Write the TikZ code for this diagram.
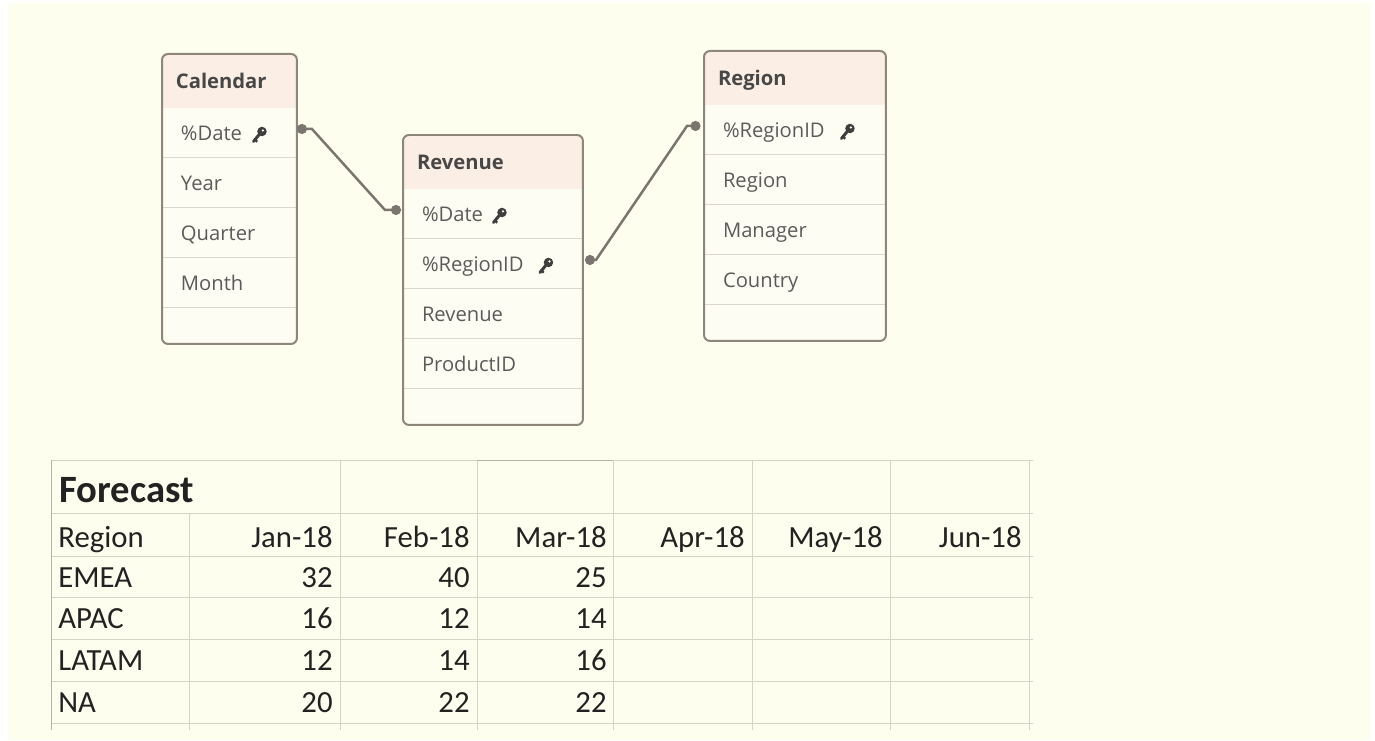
\documentclass[tikz,border=0pt]{standalone}
\usepackage{fontspec}
\setmainfont{Open Sans}
\newfontfamily\sheetfont{Carlito}
\usetikzlibrary{positioning,arrows.meta,backgrounds}

\definecolor{paper}{HTML}{FEFEEF}
\definecolor{headfill}{HTML}{FBEEE4}
\definecolor{rowfill}{HTML}{FEFDF3}
\definecolor{framecol}{HTML}{8E867B}
\definecolor{sepcol}{HTML}{DDD8CE}
\definecolor{fldtext}{HTML}{5B5B5B}
\definecolor{headtext}{HTML}{474747}
\definecolor{linkcol}{HTML}{7A766F}
\definecolor{keycol}{HTML}{3E3E3E}
\definecolor{gridcol}{HTML}{D6D4C8}
\definecolor{gridedge}{HTML}{B5B3A8}
\definecolor{celltext}{HTML}{222222}

\tikzset{
    head/.style={
           anchor=north west,
           minimum height=1.08cm,
           inner xsep=0.28cm, inner ysep=0pt, outer sep=0pt,
           text width=#1,
           text height=8.2pt, text depth=0pt,
           font=\bfseries\fontsize{11.5}{13}\selectfont,
           text=headtext
           },
    field/.style={
           minimum height=1cm,
           inner xsep=0.38cm, inner ysep=0pt, outer sep=0pt,
           text width=#1,
           text height=8.2pt, text depth=0pt,
           font=\fontsize{11.5}{13}\selectfont,
           text=fldtext
           },
    tail/.style={
           minimum height=0.72cm,
           minimum width=#1,
           inner sep=0pt, outer sep=0pt
           },
    tblframe/.style={draw=framecol, line width=0.04cm, rounded corners=0.12cm},
    rowsep/.style={draw=sepcol, line width=0.02cm},
    keylink/.style={
           draw=linkcol, line width=0.05cm,
           {Circle[length=0.2cm]}-{Circle[length=0.2cm]}
           },
    keyicon/.pic={
           \fill[keycol] (0.06cm,0.07cm) circle (0.095cm);
           \fill[rowfill] (0.08cm,0.09cm) circle (0.025cm);
           \draw[keycol, line width=0.06cm, line cap=round] (0.03cm,0.04cm) -- (-0.11cm,-0.13cm);
           \draw[keycol, line width=0.045cm] (-0.08cm,-0.095cm) -- (-0.035cm,-0.135cm);
           },
    sheetline/.style={draw=gridcol, line width=0.02cm},
    cellL/.style={
           anchor=base west, inner sep=0pt,
           font=\sheetfont\fontsize{17.5}{20}\selectfont,
           text=celltext
           },
    cellR/.style={cellL, anchor=base east},
    sheettitle/.style={cellL, font=\sheetfont\bfseries\fontsize{22}{24}\selectfont}
}

\begin{document}
\begin{tikzpicture}[x=0.02cm, y=-0.02cm]
   \useasboundingbox (0,0) rectangle (1375,740);

   % Calendar
   \node[head=2.14cm] (cal) at (162,54) {Calendar};
   \node[field=1.94cm] (caldate) [below=0pt of cal] {\%Date};
   \node[field=1.94cm] (calyear) [below=0pt of caldate] {Year};
   \node[field=1.94cm] (calqtr) [below=0pt of calyear] {Quarter};
   \node[field=1.94cm] (calmonth) [below=0pt of calqtr] {Month};
   \node[tail=2.7cm] (calend) [below=0pt of calmonth] {};

   % Revenue
   \node[head=3.04cm] (rev) at (403,135) {Revenue};
   \node[field=2.84cm] (revdate) [below=0pt of rev] {\%Date};
   \node[field=2.84cm] (revregion) [below=0pt of revdate] {\%RegionID};
   \node[field=2.84cm] (revamount) [below=0pt of revregion] {Revenue};
   \node[field=2.84cm] (revproduct) [below=0pt of revamount] {ProductID};
   \node[tail=3.6cm] (revend) [below=0pt of revproduct] {};

   % Region
   \node[head=3.08cm] (reg) at (704,51) {Region};
   \node[field=2.88cm] (regid) [below=0pt of reg] {\%RegionID};
   \node[field=2.88cm] (regname) [below=0pt of regid] {Region};
   \node[field=2.88cm] (regmgr) [below=0pt of regname] {Manager};
   \node[field=2.88cm] (regcountry) [below=0pt of regmgr] {Country};
   \node[tail=3.64cm] (regend) [below=0pt of regcountry] {};

   \begin{pgfonlayer}{background}
      \fill[white] (0,0) rectangle (1375,740);
      \fill[paper] (8,3) rectangle (1370,740);
      \foreach \t/\e in {cal/calend, rev/revend, reg/regend} {
         \fill[rowfill, rounded corners=0.12cm] (\t.north west) rectangle (\e.south east);
         \begin{scope}
            \clip[rounded corners=0.12cm] (\t.north west) rectangle (\e.south east);
            \fill[headfill] (\t.north west) rectangle (\t.south east);
         \end{scope}
      }
   \end{pgfonlayer}

   \foreach \r in {caldate,calyear,calqtr,calmonth,revdate,revregion,revamount,revproduct,regid,regname,regmgr,regcountry}
      \draw[rowsep] (\r.south west) -- (\r.south east);

   \draw[tblframe] (cal.north west) rectangle (calend.south east);
   \draw[tblframe] (rev.north west) rectangle (revend.south east);
   \draw[tblframe] (reg.north west) rectangle (regend.south east);

   \pic at ([xshift=1.94cm,yshift=-0.04cm]caldate.west) {keyicon};
   \pic at ([xshift=1.92cm,yshift=-0.04cm]revdate.west) {keyicon};
   \pic at ([xshift=2.85cm,yshift=-0.04cm]revregion.west) {keyicon};
   \pic at ([xshift=2.86cm,yshift=-0.04cm]regid.west) {keyicon};

   \draw[keylink] ([yshift=0.08cm]caldate.east) -- ++(0.3cm,0)
        -- ([xshift=-0.36cm,yshift=0.08cm]revdate.west) -- ([xshift=-0.04cm,yshift=0.08cm]revdate.west);
   \draw[keylink] ([xshift=0.04cm,yshift=0.08cm]revregion.east) -- ++(0.22cm,0)
        -- ([xshift=-0.34cm,yshift=0.08cm]regid.west) -- ([xshift=-0.07cm,yshift=0.08cm]regid.west);

   % Forecast sheet
   \foreach \y in {460,513,556,597,639,681,723}
      \draw[sheetline] (51,\y) -- (1033,\y);
   \foreach \x in {340,477,613,752,890,1029}
      \draw[sheetline] (\x,460) -- (\x,730);
   \draw[sheetline] (189,513) -- (189,730);
   \draw[sheetline, draw=gridedge] (51,460) -- (51,730);
   \draw[sheetline, draw=gridedge] (477,460) -- (613,460);

   \node[sheettitle] (fc) at (59,502) {Forecast};
   \foreach \y/\txt in {547/Region,587/EMEA,628/APAC,670/LATAM,712/NA}
      \node[cellL] (r\txt) at (58,\y) {\txt};
   \foreach \x/\m in {333/Jan,470/Feb,607/Mar,745/Apr,883/May,1022/Jun}
      \node[cellR] (m\m) at (\x,547) {\m-18};
   \foreach \x/\a/\b/\c/\d in {333/32/16/12/20, 470/40/12/14/22, 607/25/14/16/22} {
      \node[cellR] (v\x-1) at (\x,587) {\a};
      \node[cellR] (v\x-2) at (\x,628) {\b};
      \node[cellR] (v\x-3) at (\x,670) {\c};
      \node[cellR] (v\x-4) at (\x,712) {\d};
   }
\end{tikzpicture}
\end{document}
